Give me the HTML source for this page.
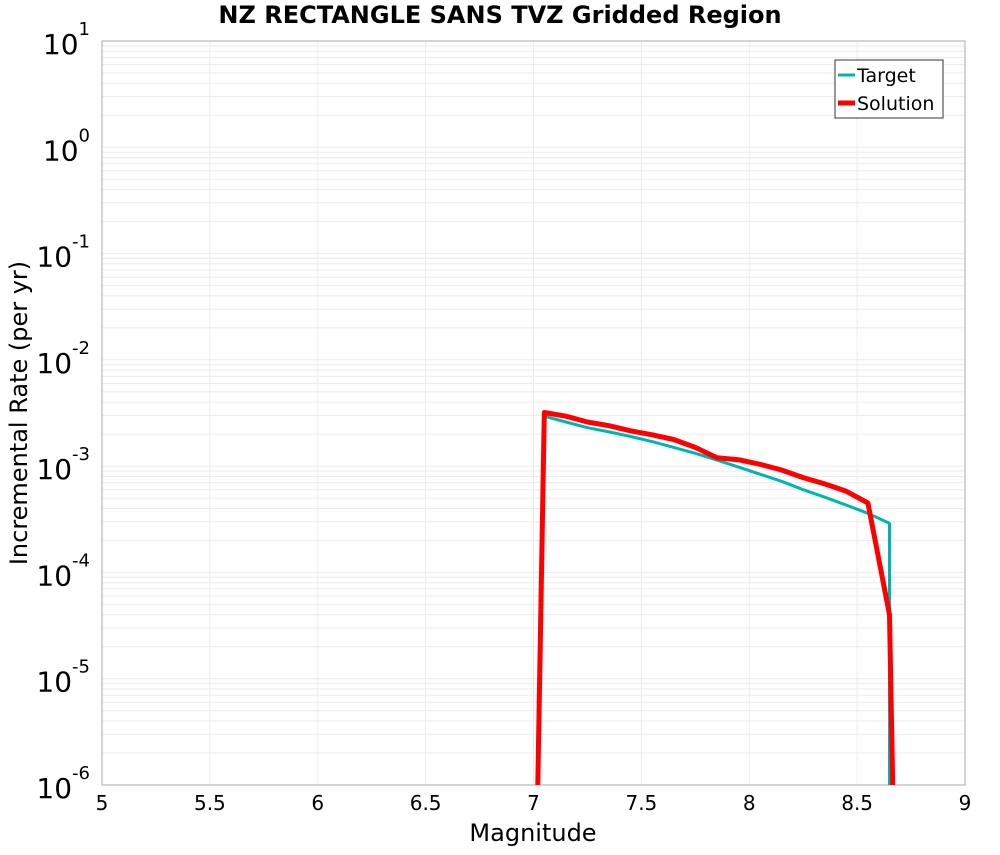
<!DOCTYPE html>
<html><head><meta charset="utf-8"><style>
body{margin:0;background:#fff;}
svg text{font-family:"DejaVu Sans","Liberation Sans",sans-serif;}
</style></head><body>
<svg id="chart" width="1000" height="850" xmlns="http://www.w3.org/2000/svg"></svg>
<script>
const magsTarget=[7.05,7.15,7.25,7.35,7.45,7.55,7.65,7.75,7.85,7.95,8.05,8.15,8.25,8.35,8.45,8.55,8.65,8.65];
const ratesTarget=[2.95e-3,2.6e-3,2.3e-3,2.1e-3,1.9e-3,1.7e-3,1.5e-3,1.32e-3,1.14e-3,0.98e-3,0.84e-3,0.72e-3,0.6e-3,0.51e-3,0.43e-3,0.36e-3,0.29e-3,1e-6];
const magsSolution=[7.02,7.05,7.15,7.25,7.35,7.45,7.55,7.65,7.75,7.85,7.95,8.05,8.15,8.25,8.35,8.45,8.55,8.65,8.665];
const ratesSolution=[1e-6,3.2e-3,2.95e-3,2.6e-3,2.4e-3,2.15e-3,1.97e-3,1.78e-3,1.5e-3,1.2e-3,1.15e-3,1.04e-3,0.92e-3,0.78e-3,0.68e-3,0.58e-3,0.45e-3,4e-5,1e-6];
const xTicks=[5,5.5,6,6.5,7,7.5,8,8.5,9];
const yExps=[-6,-5,-4,-3,-2,-1,0,1];

const L=102,R=965,T=41,B=785;
const X=m=>L+(m-5)/4*(R-L);
const Y=v=>B-(Math.log10(v)+6)/7*(B-T);
const svg=document.getElementById('chart');
const NS='http://www.w3.org/2000/svg';
function mk(tag,attrs,parent){const e=document.createElementNS(NS,tag);for(const k in attrs)e.setAttribute(k,attrs[k]);(parent||svg).appendChild(e);return e;}

const grid=mk('g',{});


for(let e=-6;e<1;e++)for(let k=1;k<10;k++){const y=Y(k*Math.pow(10,e));mk('line',{x1:L,x2:R,y1:y,y2:y,stroke:'#ebebeb','stroke-width':1},grid);}
xTicks.forEach(t=>{const x=X(t);mk('line',{x1:x,x2:x,y1:T,y2:B,stroke:'#ebebeb','stroke-width':1},grid);});

const frame=mk('rect',{x:L,y:T,width:R-L,height:B-T,fill:'none',stroke:'#aaa','stroke-width':1});



xTicks.forEach(t=>{const tx=mk('text',{x:X(t),y:810,'font-size':20,'text-anchor':'middle',fill:'#000'});tx.textContent=String(t);

});
yExps.forEach(e=>{const y=Y(Math.pow(10,e));const tx=mk('text',{x:90,y:y+13,'font-size':28,'text-anchor':'end',fill:'#000'});
tx.textContent='10';const s=mk('tspan',{dy:-19,'font-size':18},tx);s.textContent=String(e);

});

function series(ms,vs,color,w,name){const p=ms.map((m,i)=>X(m).toFixed(1)+','+Y(vs[i]).toFixed(1)).join(' ');
const pl=mk('polyline',{points:p,fill:'none',stroke:color,'stroke-width':w,'stroke-linejoin':'round'});

}
series(magsTarget,ratesTarget,'#00b4b4',3,'target-line');
series(magsSolution,ratesSolution,'#ff0000',5,'solution-line');

const t=mk('text',{x:500,y:23,'font-size':24,'font-weight':'bold','text-anchor':'middle',fill:'#000'});t.textContent='NZ RECTANGLE SANS TVZ Gridded Region';


const xt=mk('text',{x:533,y:841,'font-size':24,'text-anchor':'middle',fill:'#000'});xt.textContent='Magnitude';


const yt=mk('text',{x:0,y:0,'font-size':24,'text-anchor':'middle',fill:'#000',transform:'translate(27,413) rotate(-90)'});yt.textContent='Incremental Rate (per yr)';



const lg=mk('g',{});


mk('rect',{x:835,y:60,width:108,height:58,fill:'#fff',stroke:'#333','stroke-width':1},lg);
mk('line',{x1:838,x2:855,y1:75,y2:75,stroke:'#00b4b4','stroke-width':3},lg);
mk('line',{x1:838,x2:855,y1:103,y2:103,stroke:'#ff0000','stroke-width':5},lg);
const l1=mk('text',{x:857,y:82,'font-size':19,fill:'#000'},lg);l1.textContent='Target';


const l2=mk('text',{x:857,y:110,'font-size':19,fill:'#000'},lg);l2.textContent='Solution';


</script>
</body></html>
